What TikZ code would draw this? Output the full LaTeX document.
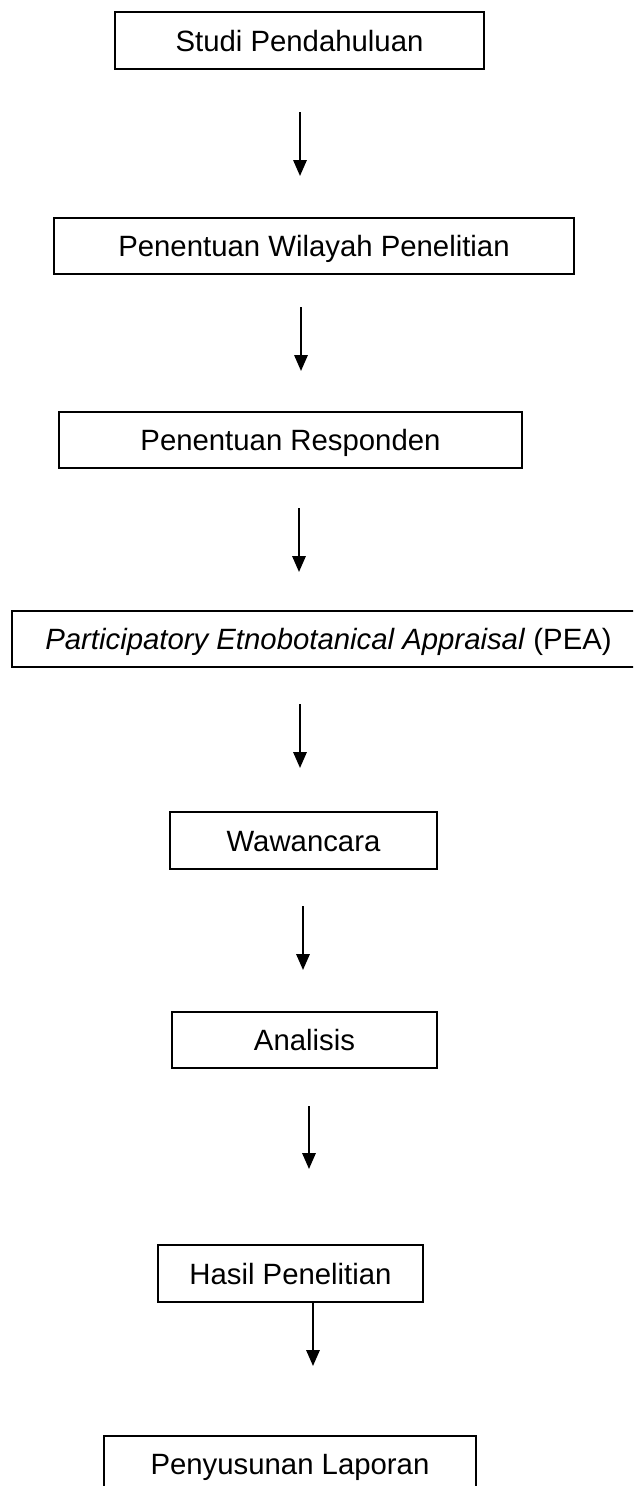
\documentclass[tikz,border=0pt]{standalone}
\usepackage{fontspec}
\setmainfont{Liberation Sans}
\usetikzlibrary{arrows.meta}
\begin{document}
\begin{tikzpicture}[x=0.75pt,y=-0.75pt,
  box/.style={draw=black,line width=1.8pt,inner sep=0pt,
    font=\fontsize{22pt}{26pt}\selectfont,text height=15.75pt,text depth=0pt},
  arr/.style={draw=black,line width=1.6pt,-{Triangle[length=12pt,width=10pt]}}]
\clip (0,0) rectangle (633,1486);
\node[box,minimum width=276.75pt,minimum height=42.75pt] (b1) at (299.5,40.5) {Studi Pendahuluan};
\node[box,minimum width=390pt,minimum height=42pt] (b2) at (314,246) {Penentuan Wilayah Penelitian};
\node[box,minimum width=347.25pt,minimum height=42pt] (b3) at (290.5,440) {Penentuan Responden};
\node[box,minimum width=474.75pt,minimum height=42pt] (b4) at (328.5,639) {\textit{Participatory Etnobotanical Appraisal} (PEA)};
\node[box,minimum width=200.25pt,minimum height=42.75pt] (b5) at (303.5,840.5) {Wawancara};
\node[box,minimum width=198.75pt,minimum height=42pt] (b6) at (304.5,1040) {Analisis};
\node[box,minimum width=198.75pt,minimum height=42.75pt] (b7) at (290.5,1273.5) {Hasil Penelitian};
\node[box,minimum width=279pt,minimum height=42pt] (b8) at (290,1464) {Penyusunan Laporan};
\coordinate (a1s) at (300,112);  \coordinate (a1e) at (300,176);
\coordinate (a2s) at (301,307);  \coordinate (a2e) at (301,371);
\coordinate (a3s) at (299,508);  \coordinate (a3e) at (299,572);
\coordinate (a4s) at (300,704);  \coordinate (a4e) at (300,768);
\coordinate (a5s) at (303,906);  \coordinate (a5e) at (303,970);
\coordinate (a6s) at (309,1106); \coordinate (a6e) at (309,1169);
\coordinate (a7e) at (313,1366);
\draw[arr] (a1s) -- (a1e);
\draw[arr] (a2s) -- (a2e);
\draw[arr] (a3s) -- (a3e);
\draw[arr] (a4s) -- (a4e);
\draw[arr] (a5s) -- (a5e);
\draw[arr] (a6s) -- (a6e);
\draw[arr] (b7.south -| a7e) -- (a7e);
\end{tikzpicture}
\end{document}
